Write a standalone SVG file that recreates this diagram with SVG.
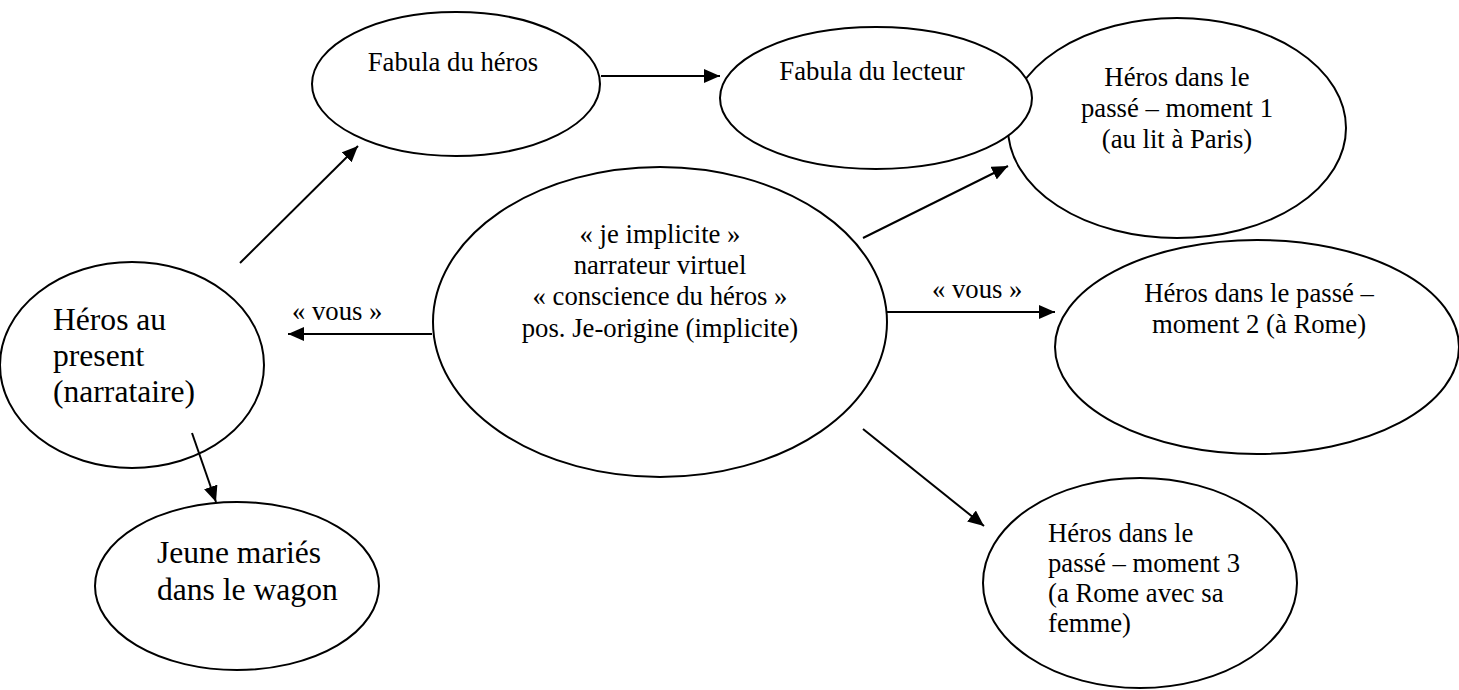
<svg xmlns="http://www.w3.org/2000/svg" width="1459" height="690" viewBox="0 0 1459 690">
<style>
.n ellipse{fill:#fff;stroke:#000;stroke-width:2}
text{font-family:"Liberation Serif","Times New Roman",serif;fill:#000}
.s{font-size:26.7px}
.l{font-size:31.6px}
.c{text-anchor:middle}
#edges line{stroke:#000;stroke-width:2;marker-end:url(#ah)}
</style>
<defs>
<marker id="ah" markerUnits="userSpaceOnUse" markerWidth="17" markerHeight="14" refX="16" refY="7" orient="auto"><path d="M0,0 L16,7 L0,14 z" fill="#000"/></marker>
</defs>
<rect width="1459" height="690" fill="#fff"/>
<g id="heros-present" class="n">
<ellipse cx="132" cy="365" rx="132" ry="103"/>
<text class="l" x="53" y="330">Héros au</text>
<text class="l" x="53" y="366">present</text>
<text class="l" x="53" y="402">(narrataire)</text>
</g>
<g id="jeune-maries" class="n">
<ellipse cx="237" cy="586" rx="142" ry="84"/>
<text class="l" x="157" y="563">Jeune mariés</text>
<text class="l" x="157" y="600">dans le wagon</text>
</g>
<g id="fabula-heros" class="n">
<ellipse cx="456" cy="84" rx="144" ry="72"/>
<text class="s c" x="453" y="71">Fabula du héros</text>
</g>
<g id="moment2" class="n">
<ellipse cx="1257" cy="347" rx="202" ry="107"/>
<text class="s c" x="1259" y="302">Héros dans le passé –</text>
<text class="s c" x="1259" y="333">moment 2 (à Rome)</text>
</g>
<g id="moment1" class="n">
<ellipse cx="1177" cy="128" rx="169" ry="110"/>
<text class="s c" x="1177" y="86">Héros dans le</text>
<text class="s c" x="1177" y="117">passé – moment 1</text>
<text class="s c" x="1177" y="148">(au lit à Paris)</text>
</g>
<g id="fabula-lecteur" class="n">
<ellipse cx="876" cy="98" rx="156" ry="71"/>
<text class="s c" x="872" y="80">Fabula du lecteur</text>
</g>
<g id="narrateur" class="n">
<ellipse cx="660" cy="322" rx="227" ry="155"/>
<text class="s c" x="660" y="243">« je implicite »</text>
<text class="s c" x="660" y="274">narrateur virtuel</text>
<text class="s c" x="660" y="305">« conscience du héros »</text>
<text class="s c" x="660" y="337">pos. Je-origine (implicite)</text>
</g>
<g id="moment3" class="n">
<ellipse cx="1140" cy="583" rx="157" ry="105"/>
<text class="s" x="1048" y="542">Héros dans le</text>
<text class="s" x="1048" y="572">passé – moment 3</text>
<text class="s" x="1048" y="602">(a Rome avec sa</text>
<text class="s" x="1048" y="632">femme)</text>
</g>
<g id="edges">
<line x1="240" y1="263" x2="358" y2="146"/>
<line x1="192" y1="433" x2="216" y2="502"/>
<line x1="601" y1="76" x2="720" y2="76"/>
<line x1="432" y1="334" x2="288" y2="334"/>
<line x1="887" y1="312" x2="1055" y2="312"/>
<line x1="863" y1="238" x2="1008" y2="166"/>
<line x1="863" y1="429" x2="984" y2="526"/>
<text class="s" x="292" y="320">« vous »</text>
<text class="s" x="932" y="298">« vous »</text>
</g>
</svg>
